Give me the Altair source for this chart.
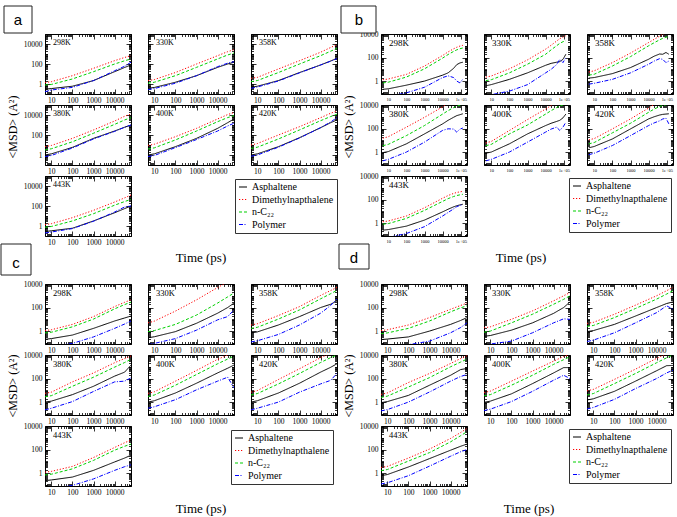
import altair as alt
import pandas as pd

SERIES = ["Asphaltene", "Dimethylnapthalene", "n-C₂₂", "Polymer"]
COLORS = ["#000000", "#ff0000", "#00d000", "#0000ff"]
DASHES = [[1, 0], [1.2, 1.8], [3, 2], [4, 1.5, 1, 1.5]]
TEMPS = ["298K", "330K", "358K", "380K", "400K", "420K", "443K"]

T_ACD = [5, 10, 100, 1000, 10000, 30000, 60000]
T_B = [5, 10, 100, 1000, 10000, 20000, 40000, 60000, 90000, 130000]

X_LABELS_ACD = [10, 100, 1000, 10000]
X_LABELS_B = [10, 100, 1000, 10000, 100000]
Y_LABELS = [1, 100, 10000]

# ---- panel a ----
A_ASPH = [
    [0.3, 0.35, 0.6, 2.2, 17, 45, 80],
    [0.37, 0.45, 1.5, 6.8, 46, 100, 150],
    [0.46, 0.6, 2.2, 14, 80, 200, 370],
    [1, 1.3, 5.8, 46, 250, 600, 1000],
    [1, 1.3, 6.8, 46, 460, 1700, 4000],
    [1, 1.3, 6.8, 54, 540, 1700, 3200],
    [0.28, 0.33, 0.6, 3.2, 21, 55, 100],
]
A_DMN = [
    [1.4, 1.7, 6.8, 37, 215, 450, 680],
    [2.2, 2.8, 14, 100, 680, 1700, 2700],
    [3.7, 4.6, 32, 215, 1500, 4500, 8600],
    [6.8, 9, 46, 320, 2500, 7500, 12500],
    [9, 12, 68, 460, 4000, 11000, 18000],
    [10, 14, 100, 680, 5400, 15000, 25000],
    [1.4, 1.7, 6.8, 37, 250, 650, 1250],
]
A_C22 = [
    [0.8, 0.9, 3.2, 17, 100, 210, 320],
    [1.2, 1.5, 6.8, 46, 320, 800, 1250],
    [1.7, 2.2, 14, 100, 680, 1900, 3700],
    [3.2, 4.2, 21, 150, 1150, 3200, 5400],
    [4, 5.2, 32, 250, 2150, 5500, 8600],
    [4.6, 6, 40, 320, 2700, 7000, 12000],
    [0.75, 0.9, 3.2, 17, 120, 280, 460],
]
A_POLY = [
    [0.17, 0.25, 0.46, 2.2, 21, 60, 150],
    [0.28, 0.35, 1.2, 6.8, 54, 120, 170],
    [0.37, 0.5, 2, 13, 80, 190, 350],
    [0.7, 0.9, 5, 40, 230, 600, 1000],
    [0.7, 0.9, 5.5, 35, 250, 800, 1500],
    [0.75, 1, 6, 50, 540, 2000, 5400],
    [0.2, 0.25, 0.55, 3, 25, 80, 100],
]

# ---- panel b ----
B_ASPH = [
    [0.2, 0.22, 0.45, 1.0, 3.2, 5, 12, 25, 35, 40],
    [0.4, 0.5, 1.4, 5, 22, 32, 40, 45, 70, 190],
    [1.8, 2, 4.3, 14, 72, 130, 200, 190, 270, 190],
    [0.9, 1.1, 5, 35, 250, 500, 900, 1250, 1500, 1800],
    [0.8, 1, 5, 35, 180, 280, 400, 500, 800, 1700],
    [2.3, 3, 13, 93, 660, 1000, 1400, 1600, 1700, 1800],
    [0.25, 0.28, 0.55, 1.8, 9, 15, 24, 30, 35, 40],
]
B_DMN = [
    [1.3, 1.5, 3.7, 19, 150, 300, 550, 750, 950, 1100],
    [2.2, 2.7, 11, 63, 520, 1100, 2500, 4000, 5500, 7200],
    [6, 7.5, 37, 240, 1900, 3500, 6500, 9500, 12000, 15000],
    [15, 20, 130, 900, 7000, 14000, 28000, 40000, 50000, 60000],
    [6, 8, 68, 580, 4600, 9000, 17000, 25000, 32000, 40000],
    [11, 14, 93, 660, 5500, 11000, 20000, 28000, 35000, 40000],
    [1.3, 1.5, 4, 20, 130, 220, 330, 400, 450, 500],
]
B_C22 = [
    [0.7, 0.8, 2.2, 11, 90, 180, 330, 450, 560, 650],
    [1.1, 1.3, 5, 27, 190, 450, 1000, 1600, 2200, 2700],
    [3.2, 3.8, 19, 120, 1000, 1800, 3200, 4300, 5300, 6300],
    [3.5, 4.5, 25, 180, 1700, 3300, 6000, 8000, 9500, 11000],
    [3.5, 4.5, 35, 200, 1700, 3300, 6000, 8500, 10000, 12000],
    [5, 6.5, 43, 280, 2400, 4500, 7500, 9000, 10500, 12000],
    [0.8, 0.9, 2.5, 12, 70, 120, 180, 220, 250, 280],
]
B_POLY = [
    [0.04, 0.05, 0.1, 0.3, 2, 2.8, 2, 1, 0.7, 1.5],
    [0.05, 0.07, 0.14, 0.5, 5, 10, 25, 70, 37, 100],
    [0.55, 0.65, 1.4, 5, 27, 50, 80, 70, 37, 50],
    [0.18, 0.24, 1, 7, 70, 95, 90, 50, 90, 110],
    [0.18, 0.24, 1, 7, 50, 90, 130, 70, 130, 340],
    [0.6, 0.8, 3.6, 25, 180, 300, 450, 650, 750, 250],
    [0.05, 0.06, 0.13, 0.5, 4, 8, 16, 25, 32, 38],
]

# ---- panel c ----
C_ASPH = [
    [0.2, 0.23, 0.46, 1.7, 7.2, 13, 19],
    [0.27, 0.33, 0.9, 4.6, 33, 100, 240],
    [0.7, 0.85, 3.3, 17, 100, 190, 370],
    [1, 1.2, 4.3, 22, 160, 350, 1400],
    [1, 1.3, 5.9, 40, 300, 750, 1400],
    [1, 1.3, 5.9, 40, 350, 900, 1800],
    [0.23, 0.26, 0.46, 1.7, 8.8, 19, 33],
]
C_DMN = [
    [1.1, 1.3, 3.7, 17, 120, 280, 450],
    [5, 7, 50, 450, 5000, 15000, 30000],
    [3.3, 4.2, 21, 120, 1070, 2800, 5200],
    [5.5, 7, 52, 300, 2200, 5000, 8200],
    [5.5, 7.5, 60, 490, 4300, 10000, 16000],
    [7, 9.5, 83, 680, 5900, 14000, 22000],
    [1.2, 1.4, 3.7, 21, 150, 380, 630],
]
C_C22 = [
    [0.7, 0.8, 2.3, 10.5, 77, 180, 290],
    [0.9, 1.1, 3.7, 23, 240, 800, 1700],
    [1.7, 2.1, 10.5, 63, 550, 1500, 2900],
    [2.8, 3.5, 22, 130, 930, 2300, 4300],
    [3, 4, 27, 220, 1800, 4500, 8200],
    [4, 5.3, 35, 270, 2300, 6000, 10000],
    [0.7, 0.8, 2.3, 12, 88, 190, 290],
]
C_POLY = [
    [0.04, 0.05, 0.09, 0.32, 1.7, 4, 7.2],
    [0.07, 0.09, 0.23, 1.2, 9, 17, 63],
    [0.12, 0.15, 0.52, 3.3, 33, 150, 550],
    [0.22, 0.3, 1.1, 8, 52, 60, 115],
    [0.3, 0.4, 1.6, 11, 60, 130, 16],
    [0.22, 0.3, 1, 7, 35, 70, 280],
    [0.04, 0.05, 0.09, 0.32, 1.7, 3.5, 5],
]

# ---- panel d ----
D_ASPH = [
    [0.19, 0.21, 0.32, 1, 3.7, 8, 14],
    [0.36, 0.42, 1.2, 5, 32, 100, 300],
    [0.9, 1.1, 3.7, 19, 100, 220, 300],
    [0.9, 1.1, 3.7, 27, 190, 580, 720],
    [0.95, 1.2, 5, 37, 300, 850, 850],
    [1.5, 1.9, 8.2, 60, 460, 1240, 1300],
    [0.6, 0.75, 3.3, 17, 88, 190, 290],
]
D_DMN = [
    [1.1, 1.3, 3.3, 14, 72, 150, 240],
    [1.9, 2.3, 10, 52, 370, 1000, 1900],
    [4.5, 5.5, 27, 160, 1000, 2700, 5200],
    [4.5, 6, 46, 270, 1900, 5000, 8700],
    [6.5, 8.5, 60, 430, 3000, 7500, 12000],
    [9, 12, 85, 630, 5200, 13000, 20000],
    [3, 3.7, 19, 110, 880, 2800, 6300],
]
D_C22 = [
    [0.6, 0.7, 1.7, 7.2, 43, 95, 140],
    [0.8, 1, 5, 27, 190, 500, 1000],
    [2.5, 3, 14, 83, 520, 1400, 2700],
    [2.5, 3.2, 19, 120, 1000, 2500, 4500],
    [3.4, 4.3, 27, 190, 1600, 4000, 7200],
    [4, 5.3, 37, 270, 2200, 5800, 10000],
    [1.6, 2, 10.5, 55, 450, 1500, 3300],
]
D_POLY = [
    [0.03, 0.04, 0.07, 0.14, 0.72, 2, 5],
    [0.06, 0.08, 0.14, 0.72, 5, 11, 10],
    [0.13, 0.17, 0.72, 5, 37, 140, 72],
    [0.18, 0.23, 1, 7.2, 60, 150, 220],
    [0.19, 0.25, 1.1, 8.2, 72, 190, 100],
    [0.26, 0.35, 1.7, 14, 100, 300, 520],
    [0.12, 0.15, 0.6, 3.9, 27, 65, 100],
]

SERIF = "Liberation Serif"
W, H = 86, 60
GAP_W, GAP_H = 10, 26

PANELS = {
    "a": dict(T=T_ACD, data=[A_ASPH, A_DMN, A_C22, A_POLY], xdom=[5, 60000], ydom=[0.1, 100000],
              xmaj=X_LABELS_ACD, xfs=7.5, tfs=8, leg=(190, 3), box=(-41, -13, -28, -1),
              letter=(-27, -14), msd_y=22, time=(156, 82)),
    "b": dict(T=T_B, data=[B_ASPH, B_DMN, B_C22, B_POLY], xdom=[4, 220000], ydom=[0.08, 10000],
              xmaj=X_LABELS_B, xfs=4.5, tfs=9, leg=(188, 2), box=(-40, -5, -28, -1),
              letter=(-22, -14), msd_y=22, time=(140, 82)),
    "c": dict(T=T_ACD, data=[C_ASPH, C_DMN, C_C22, C_POLY], xdom=[5, 60000], ydom=[0.08, 10000],
              xmaj=X_LABELS_ACD, xfs=7.5, tfs=8.5, leg=(186, 4), box=(-44, -14, -40, -9),
              letter=(-29, -21), msd_y=31, time=(156, 83)),
    "d": dict(T=T_ACD, data=[D_ASPH, D_DMN, D_C22, D_POLY], xdom=[5, 60000], ydom=[0.08, 10000],
              xmaj=X_LABELS_ACD, xfs=7.5, tfs=8.5, leg=(188, 3), box=(-42, -12, -40, -15),
              letter=(-27, -26), msd_y=31, time=(148, 83)),
}

rows = []
for p, cfg in PANELS.items():
    for si, arr in enumerate(cfg["data"]):
        for ti, vals in enumerate(arr):
            for t, v in zip(cfg["T"], vals):
                rows.append({"panel": p, "temp": TEMPS[ti], "series": SERIES[si], "t": t, "msd": v})
df = pd.DataFrame(rows)


def minor_ticks(lo, hi, majors):
    out = []
    for n in range(-2, 7):
        for k in range(1, 10):
            v = round(k * 10.0 ** n, 6)
            if lo <= v <= hi and v not in majors:
                out.append(v)
    return out


def tick_axis(orient, values, size):
    return alt.Axis(orient=orient, values=values, tickSize=size, offset=-size, labels=False,
                    domain=False, grid=False, title=None)


def cell(p, ti):
    cfg = PANELS[p]
    sub = df[(df["panel"] == p) & (df["temp"] == TEMPS[ti])]
    xs = alt.Scale(type="log", domain=cfg["xdom"], nice=False)
    ys = alt.Scale(type="log", domain=cfg["ydom"], nice=False)
    xmin = minor_ticks(cfg["xdom"][0], cfg["xdom"][1], cfg["xmaj"])
    ymin = minor_ticks(cfg["ydom"][0], cfg["ydom"][1], Y_LABELS)
    show_y = (ti % 3 == 0)

    if ti == 6:
        leg = alt.Legend(orient="none", legendX=cfg["leg"][0], legendY=cfg["leg"][1], title=None,
                         strokeColor="#333333", fillColor="white", padding=3, rowPadding=2.5,
                         labelFont=SERIF, labelFontSize=10, labelColor="black",
                         symbolType="stroke", symbolSize=64, symbolStrokeWidth=1.2, labelOffset=4)
        color = alt.Color("series:N", scale=alt.Scale(domain=SERIES, range=COLORS), legend=leg)
        dash = alt.StrokeDash("series:N", scale=alt.Scale(domain=SERIES, range=DASHES), legend=leg)
    else:
        color = alt.Color("series:N", scale=alt.Scale(domain=SERIES, range=COLORS), legend=None)
        dash = alt.StrokeDash("series:N", scale=alt.Scale(domain=SERIES, range=DASHES), legend=None)

    xexpr = "datum.value >= 100000 ? '1e+05' : format(datum.value, 'd')"
    lines = alt.Chart(sub).mark_line(clip=True, strokeWidth=1).encode(
        x=alt.X("t:Q", scale=xs, axis=alt.Axis(
            orient="bottom", values=cfg["xmaj"], tickSize=5, offset=-5, labelPadding=2,
            labelFontSize=cfg["xfs"], labelFont=SERIF, labelExpr=xexpr, domain=False, grid=False,
            title=None, labelFlush=False, labelOverlap=False)),
        y=alt.Y("msd:Q", scale=ys, axis=alt.Axis(
            orient="left", values=Y_LABELS, tickSize=5, offset=-5, labelPadding=3,
            labelFontSize=7.5, labelFont=SERIF, labels=show_y, labelExpr="format(datum.value, 'd')",
            domain=False, grid=False, title=None, labelFlush=False, labelOverlap=False)),
        color=color,
        strokeDash=dash,
    )
    major_tr = alt.Chart(sub).mark_point(opacity=0, clip=True, size=1).encode(
        x=alt.X("t:Q", scale=xs, axis=tick_axis("top", cfg["xmaj"], 5)),
        y=alt.Y("msd:Q", scale=ys, axis=tick_axis("right", Y_LABELS, 5)),
    )
    minor_bl = alt.Chart(sub).mark_point(opacity=0, clip=True, size=1).encode(
        x=alt.X("t:Q", scale=xs, axis=tick_axis("bottom", xmin, 2.5)),
        y=alt.Y("msd:Q", scale=ys, axis=tick_axis("left", ymin, 2.5)),
    )
    minor_tr = alt.Chart(sub).mark_point(opacity=0, clip=True, size=1).encode(
        x=alt.X("t:Q", scale=xs, axis=tick_axis("top", xmin, 2.5)),
        y=alt.Y("msd:Q", scale=ys, axis=tick_axis("right", ymin, 2.5)),
    )
    temp_lbl = alt.Chart(pd.DataFrame({"label": [TEMPS[ti]]})).mark_text(
        align="left", baseline="middle", font=SERIF, fontSize=cfg["tfs"], color="black"
    ).encode(text="label:N", x=alt.value(8), y=alt.value(9))

    layers = [lines, major_tr, minor_bl, minor_tr, temp_lbl]

    if ti == 0:
        bx = cfg["box"]
        layers.append(alt.Chart(pd.DataFrame({"label": [p]})).mark_rect(
            fill="white", stroke="#222222", strokeWidth=1
        ).encode(x=alt.value(bx[0]), x2=alt.value(bx[1]), y=alt.value(bx[2]), y2=alt.value(bx[3])))
        layers.append(alt.Chart(pd.DataFrame({"label": [p]})).mark_text(
            font="Liberation Sans", fontSize=15, color="black", align="center", baseline="middle"
        ).encode(text="label:N", x=alt.value(cfg["letter"][0]), y=alt.value(cfg["letter"][1])))
    if ti == 3:
        layers.append(alt.Chart(pd.DataFrame({"label": ["<MSD> (A²)"]})).mark_text(
            font=SERIF, fontSize=12, color="black", angle=270, align="center", baseline="middle"
        ).encode(text="label:N", x=alt.value(-32), y=alt.value(cfg["msd_y"])))
    if ti == 6:
        layers.append(alt.Chart(pd.DataFrame({"label": ["Time (ps)"]})).mark_text(
            font=SERIF, fontSize=13, color="black", align="center", baseline="middle"
        ).encode(text="label:N", x=alt.value(cfg["time"][0]), y=alt.value(cfg["time"][1])))

    return alt.layer(*layers).properties(width=W, height=H).resolve_axis(x="independent", y="independent")


def spacer(w, h):
    return alt.Chart(pd.DataFrame({"v": [0]})).mark_point(opacity=0).encode(
        x=alt.value(0), y=alt.value(0)
    ).properties(width=w, height=h, view=alt.ViewBackground(strokeOpacity=0))


cells = []
for left, right in [("a", "b"), ("c", "d")]:
    for r in range(3):
        for pn in (left, right):
            for c in range(3):
                ti = r * 3 + c
                if ti < 7:
                    cells.append(cell(pn, ti))
                else:
                    cells.append(spacer(W, H))
            if pn == left:
                cells.append(spacer(GAP_W, H))
    if left == "a":
        for c in range(7):
            cells.append(spacer(GAP_W if c == 3 else W, GAP_H))

chart = alt.concat(*cells, columns=7, spacing={"row": 11, "column": 17}, bounds="flush", align="each")
chart = chart.resolve_scale(color="independent", strokeDash="independent").properties(
    padding={"left": 0, "top": 5, "right": 0, "bottom": 0}, background="white"
).configure_view(stroke="black", strokeWidth=1).configure_axis(
    labelColor="black", tickColor="black", tickWidth=0.8
)

chart.save("out.html", embed_options={"renderer": "svg", "actions": False})
